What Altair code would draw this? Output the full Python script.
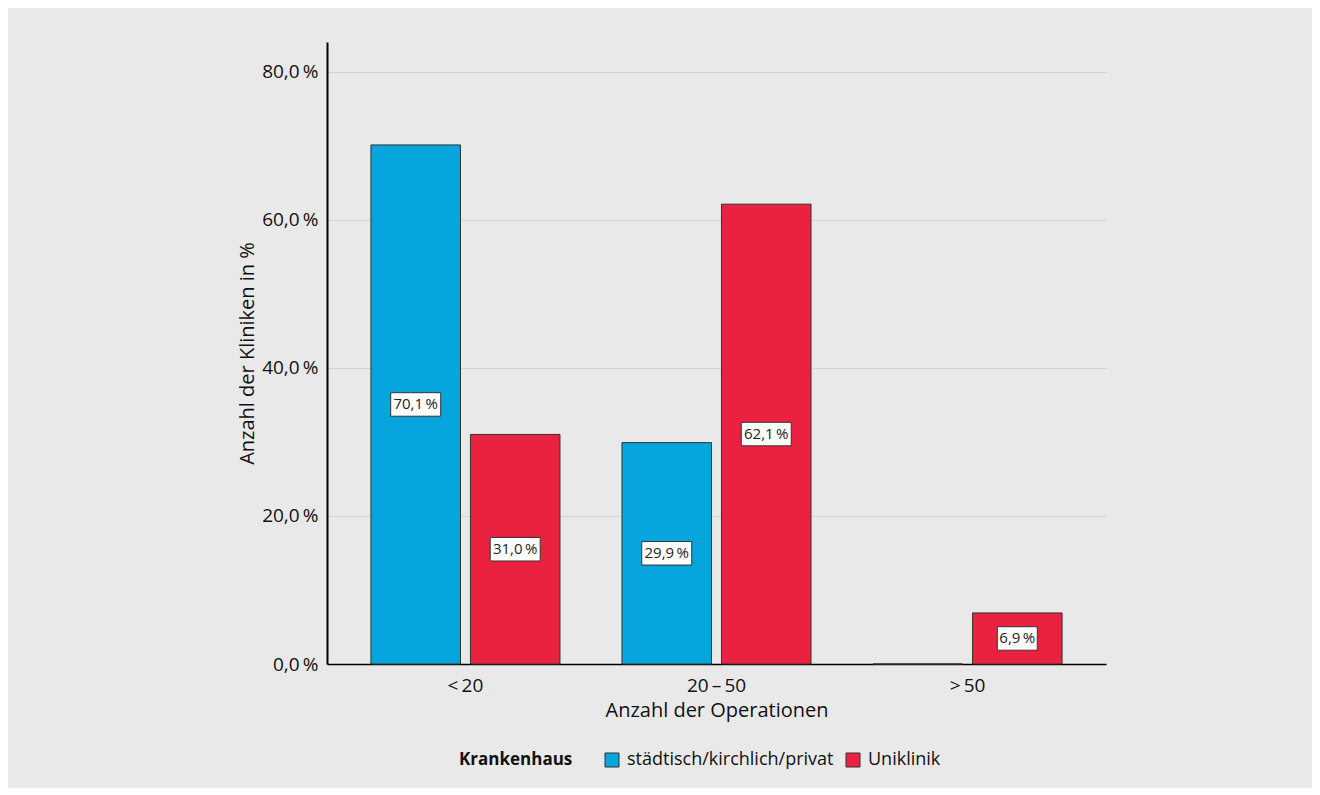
import altair as alt
import pandas as pd

categories = ["<\u200920", "20\u2009\u2013\u200950", ">\u200950"]
series = ["städtisch/kirchlich/privat", "Uniklinik"]
values_staedtisch = [70.1, 29.9, 0.0]
values_uniklinik = [31.0, 62.1, 6.9]
y_ticks = [0, 20, 40, 60, 80]

colors = ["#07a5dd", "#ea223f"]
FONT = "Open Sans"

rows = []
for i, c in enumerate(categories):
    for s, vals in zip(series, [values_staedtisch, values_uniklinik]):
        v = vals[i]
        rows.append({
            "kat": c,
            "haus": s,
            "value": v,
            "mid": v / 2,
            "label": f"{v:.1f}".replace(".", ",") + "\u2009%",
        })
df = pd.DataFrame(rows)

x = alt.X("kat:N", sort=categories,
          scale=alt.Scale(paddingInner=0.247, paddingOuter=0.175),
          axis=alt.Axis(title="Anzahl der Operationen", labelAngle=0, ticks=False,
                        labelFontSize=19, labelPadding=12, labelColor="#111",
                        domainColor="#000", domainWidth=1.5,
                        titleFontSize=20, titleFontWeight="normal", titleColor="#111",
                        titlePadding=5, grid=False))
xoff = alt.XOffset("haus:N", sort=series,
                   scale=alt.Scale(paddingInner=0.1, paddingOuter=0))

y_scale = alt.Scale(domain=[0, 84], nice=False, zero=True)

bars = alt.Chart(df).mark_bar(stroke="#333333", strokeWidth=1).encode(
    x=x,
    xOffset=xoff,
    y=alt.Y("value:Q", scale=y_scale,
            axis=alt.Axis(title="Anzahl der Kliniken in %", values=y_ticks,
                          labelExpr="replace(format(datum.value, '.1f'), '.', ',') + '\u2009%'",
                          ticks=False, labelFontSize=19, labelPadding=9, labelColor="#111",
                          domainColor="#000", domainWidth=2,
                          gridColor="#d2d2d2", gridWidth=1,
                          titleFontSize=20, titleFontWeight="normal", titleColor="#111",
                          titleX=-80, titleY=311, titleAngle=-90,
                          titleAlign="center", titleBaseline="middle")),
    color=alt.Color("haus:N", sort=series,
                    scale=alt.Scale(domain=series, range=colors),
                    legend=alt.Legend(title="Krankenhaus")),
)

lab = df[df["value"] > 0]

boxes = alt.Chart(lab).mark_point(
    filled=True, fill="white", stroke="#333333", strokeWidth=1, opacity=1, size=2500
).encode(
    x=alt.X("kat:N", sort=categories),
    xOffset=alt.XOffset("haus:N", sort=series),
    y=alt.Y("mid:Q", scale=y_scale),
    shape=alt.condition(alt.datum.value >= 10,
                        alt.value("M-1,-0.47H1V0.47H-1Z"),
                        alt.value("M-0.8,-0.47H0.8V0.47H-0.8Z")),
)

texts = alt.Chart(lab).mark_text(fontSize=15, color="#222222", font=FONT).encode(
    x=alt.X("kat:N", sort=categories),
    xOffset=alt.XOffset("haus:N", sort=series),
    y=alt.Y("mid:Q", scale=y_scale),
    text="label:N",
)

chart = alt.layer(bars, boxes, texts).properties(
    width=779, height=622,
    autosize=alt.AutoSizeParams(type="none"),
    padding={"left": 319, "top": 34, "right": 206, "bottom": 124},
    background="#e9e9e9",
).configure(
    font=FONT,
).configure_view(
    stroke=None, fill="#e9e9e9",
).configure_legend(
    orient="none", legendX=132, legendY=709,
    direction="horizontal", titleOrient="left",
    titleFontSize=17, titleFontWeight="bold", titleColor="#111",
    titlePadding=30, labelFontSize=18, labelColor="#111", labelLimit=400,
    symbolType="square", symbolSize=196, symbolStrokeColor="#333333",
    symbolStrokeWidth=1, symbolOpacity=1, columnPadding=10, labelOffset=6,
)

chart.save("out.html", embed_options={"renderer": "svg", "actions": False})
